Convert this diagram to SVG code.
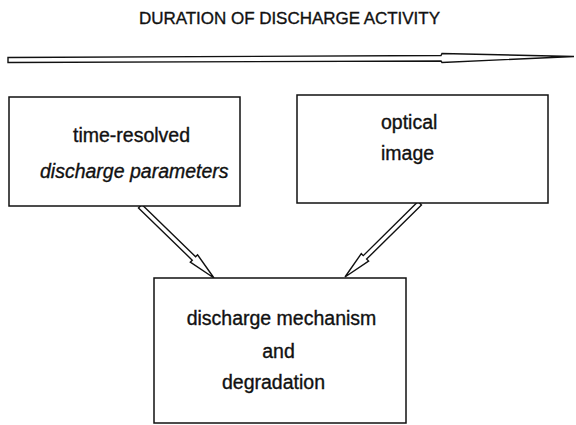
<svg xmlns="http://www.w3.org/2000/svg" width="576" height="425" viewBox="0 0 576 425">
<style>
.box{fill:#fff;stroke:#111;stroke-width:1.5}
.arr{fill:#fff;stroke:#111;stroke-width:1.4;stroke-linejoin:miter}
text{font-family:"Liberation Sans",Arial,sans-serif;font-size:19.5px;fill:#111;stroke:#111;stroke-width:0.35}
.title{font-size:17px}
.it{font-style:italic}
</style>
<rect width="576" height="425" fill="#fff"/>
<text class="title" x="139" y="24" textLength="301" lengthAdjust="spacing">DURATION OF DISCHARGE ACTIVITY</text>
<g id="connectors">
<polygon class="arr" points="8,57.5 441,55.5 442,53.5 574,56.5 442,62.5 441,61 8,62.5"/>
<g transform="translate(214,278) rotate(44.2)">
<polygon class="arr" points="-103,-2.4 -28,-2.4 -28,-5.2 0,0 -28,5.2 -28,2.4 -103,2.4"/>
</g>
<g transform="translate(345,277) rotate(135.4)">
<polygon class="arr" points="-105,-2.4 -28,-2.4 -28,-5.2 0,0 -28,5.2 -28,2.4 -105,2.4"/>
</g>
</g>
<g id="node-time-resolved">
<rect class="box" x="9" y="97" width="231" height="109"/>
<text x="73" y="142">time-resolved</text>
<text class="it" x="40" y="178">discharge parameters</text>
</g>
<g id="node-optical">
<rect class="box" x="297" y="95" width="251" height="108"/>
<text x="381" y="129">optical</text>
<text x="381" y="160">image</text>
</g>
<g id="node-mechanism">
<rect class="box" x="154" y="278" width="252" height="145"/>
<text x="281.5" y="325" text-anchor="middle">discharge mechanism</text>
<text x="278.5" y="358" text-anchor="middle">and</text>
<text x="273.5" y="389" text-anchor="middle">degradation</text>
</g>
</svg>
